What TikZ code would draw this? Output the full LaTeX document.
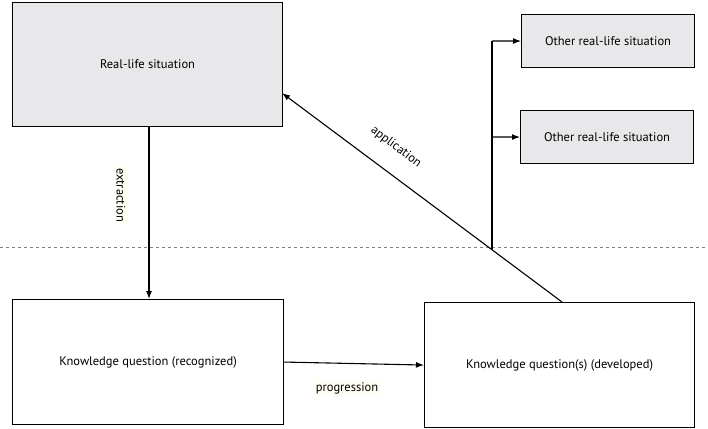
\documentclass[tikz,border=0pt]{standalone}
\usepackage{fontspec}
\setmainfont{PT Sans}
\usetikzlibrary{arrows.meta,calc}
\definecolor{boxgray}{HTML}{E8E8EA}
\begin{document}
\begin{tikzpicture}[x=1pt,y=-1pt,
  box/.style={draw,line width=1.1pt,anchor=north west,inner sep=0pt,font=\fontsize{12.5}{15}\selectfont},
  arr/.style={-{Latex[length=8pt,width=6pt]},line width=1.1pt},
  lbl/.style={font=\fontsize{12.5}{15}\selectfont,fill=yellow!4,inner sep=2pt}]
\useasboundingbox (0,0) rectangle (708,428);
\node[box,fill=boxgray,minimum width=270pt,minimum height=124pt] (real) at (12,2) {Real-life situation};
\node[box,fill=boxgray,minimum width=173pt,minimum height=53pt] (o1) at (521,14) {Other real-life situation};
\node[box,fill=boxgray,minimum width=173pt,minimum height=53pt] (o2) at (520,110) {Other real-life situation};
\node[box,minimum width=271pt,minimum height=125pt] (kr) at (12,299) {Knowledge question (recognized)};
\node[box,minimum width=270pt,minimum height=125pt] (kd) at (424,302) {Knowledge question(s) (developed)};
\draw[gray,dashed,line width=1pt] (0,247) -- (708,247);
\draw[arr] (real.south -| 149,0) -- (kr.north -| 149,0);
\node[lbl,rotate=-90] (ex) at (121,195) {extraction};
\draw[arr] (kr.east) -- (kd.west);
\node[lbl] (pr) at (347,388) {progression};
\coordinate (ap) at (562,302);
\draw[arr] (ap) -- (282,93);
\node[lbl,rotate=-37,fill=none] (al) at (396,147) {application};
\coordinate (br) at (492,249.4);
\draw[line width=1.1pt] (br) -- (492,41);
\draw[arr] (492,41) -- (o1.west);
\draw[arr] (492,137) -- (o2.west);
\end{tikzpicture}
\end{document}
